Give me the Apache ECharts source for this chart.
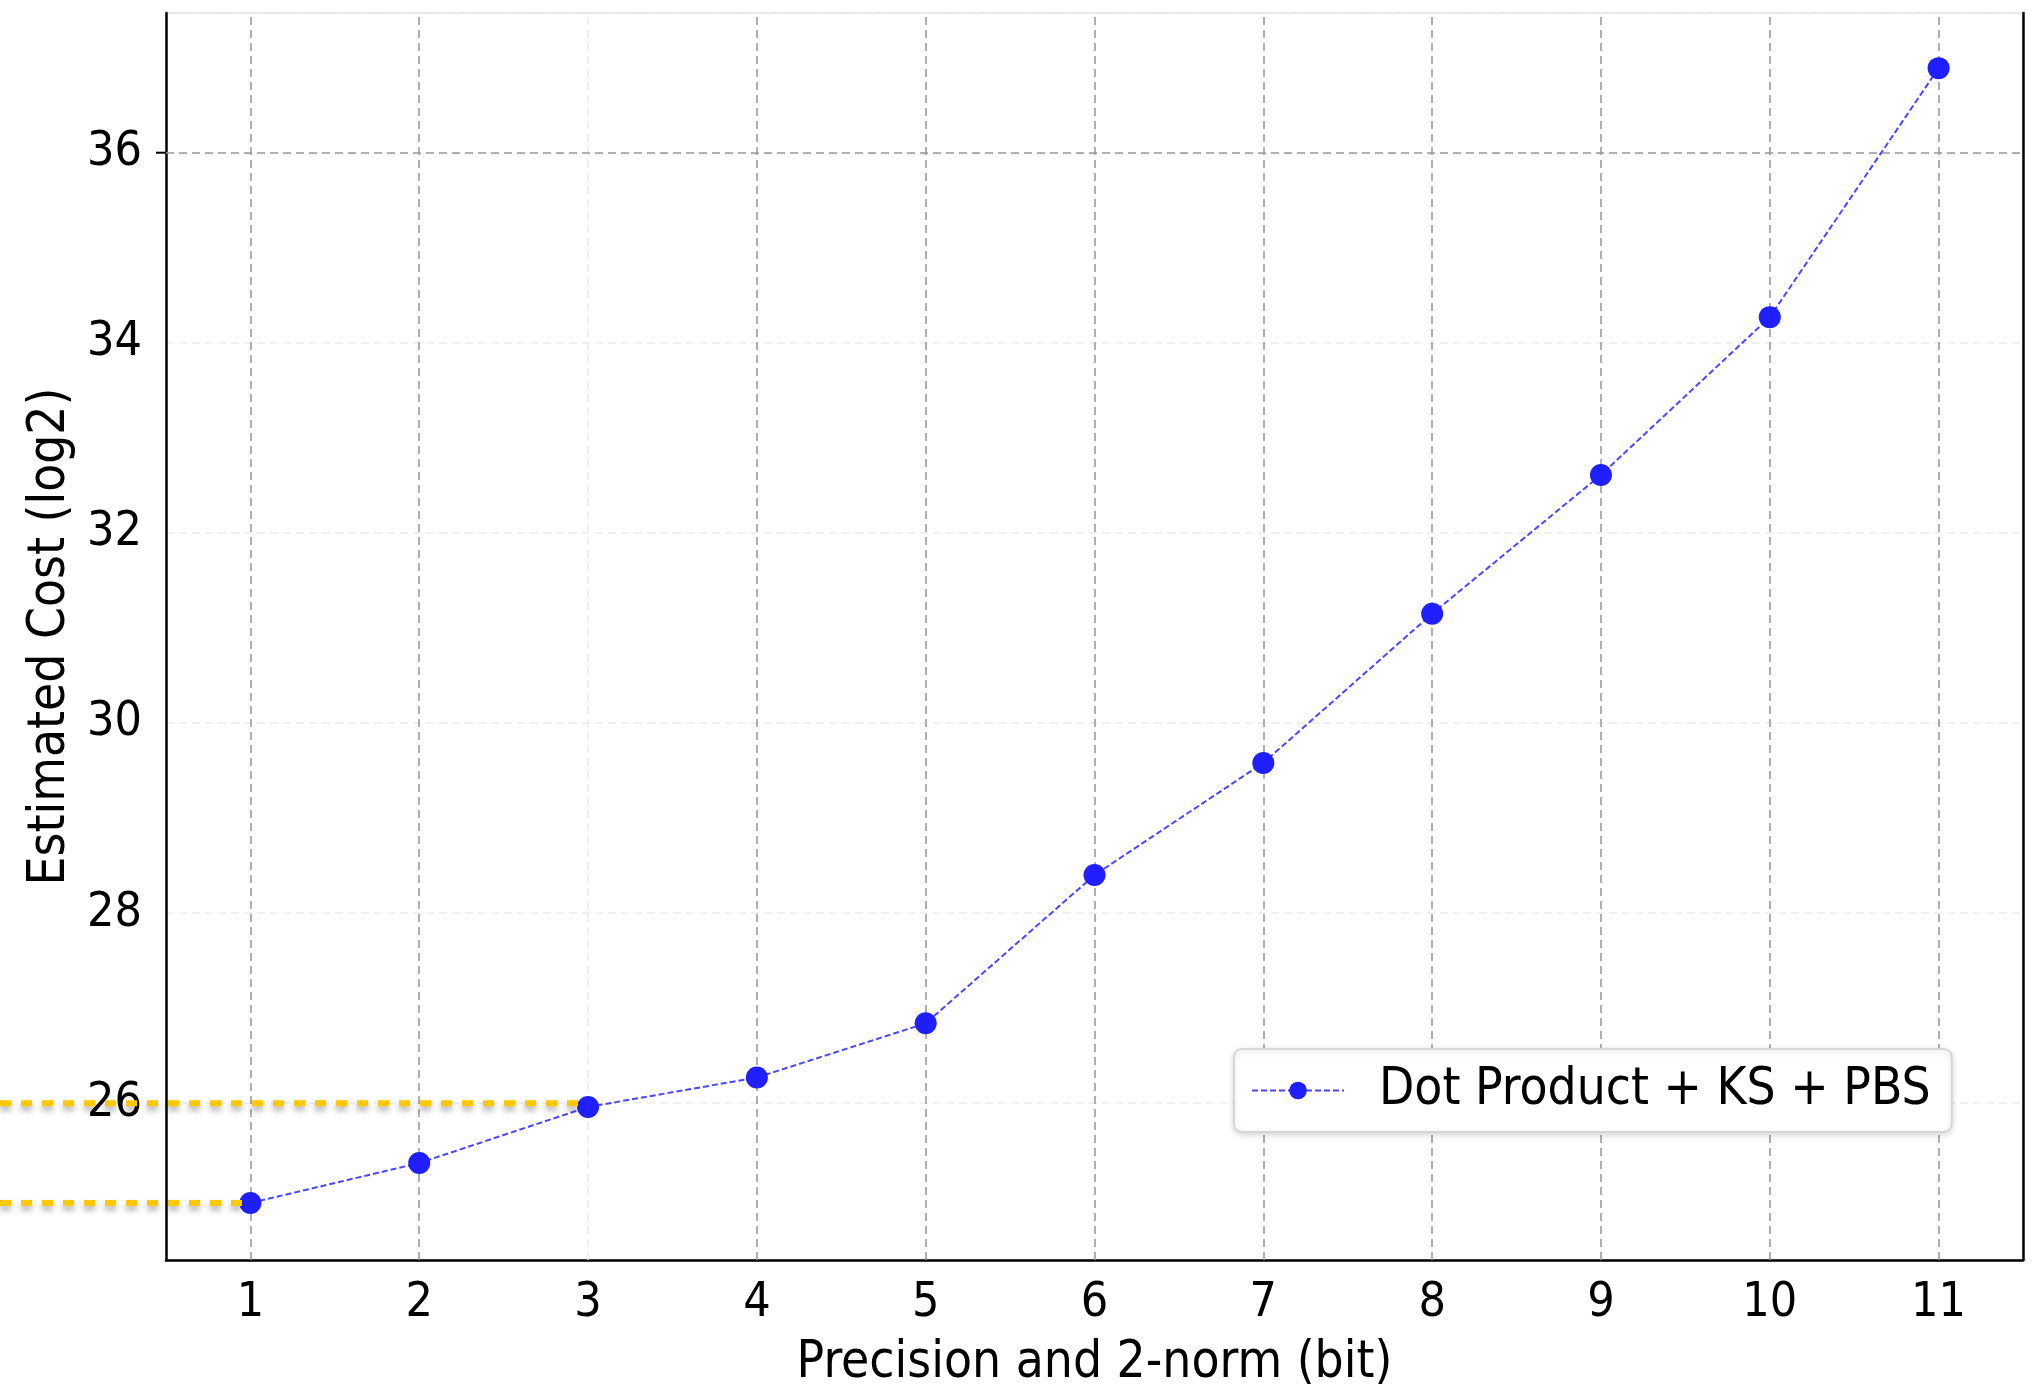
<!DOCTYPE html>
<html><head><meta charset="utf-8">
<script src="https://cdn.jsdelivr.net/npm/echarts@6/dist/echarts.min.js"></script>
<style>html,body{margin:0;padding:0;background:#fff}#c{width:2036px;height:1394px}</style>
</head><body><div id="c"></div>
<script>
const categories = ['1','2','3','4','5','6','7','8','9','10','11'];
const costValues = [24.95, 25.37, 25.96, 26.27, 26.84, 28.40, 29.58, 31.15, 32.61, 34.27, 36.89];
const seriesName = 'Dot Product + KS + PBS';
const xTitle = 'Precision and 2-norm (bit)';
const yTitle = 'Estimated Cost (log2)';
const yMin = 24.35, yMax = 37.47;
const highlightY = 36;
const faintCategory = '3';
const guideCats = ['3', '1'];
const guideValues = [26, costValues[0]];

const FONT = '"DejaVu Sans Condensed", "DejaVu Sans", sans-serif';
const GRID = {left: 166, right: 13, top: 13, bottom: 131};
const chart = echarts.init(document.getElementById('c'), null, {renderer: 'canvas'});

const dark = {color: '#9c9c9c', type: [8, 5], width: 1.6};
const faint = {color: '#ececec', type: [8, 5], width: 1.6};

chart.setOption({
  animation: false,
  backgroundColor: '#fff',
  textStyle: {fontFamily: FONT},
  grid: {left: GRID.left, right: GRID.right, top: GRID.top, bottom: GRID.bottom, show: true, borderColor: '#e6e6e6', borderWidth: 2, backgroundColor: 'transparent'},
  legend: {
    data: [seriesName], left: 1234, top: 1049,
    padding: [16, 21, 16, 17], itemWidth: 92, itemHeight: 22, itemGap: 0,
    textStyle: {fontSize: 51, fontFamily: FONT, color: '#000', padding: [0, 0, 0, 30]},
    backgroundColor: '#fff', borderColor: '#d6d6d6', borderWidth: 2, borderRadius: 8,
    shadowBlur: 6, shadowColor: 'rgba(0,0,0,0.15)', shadowOffsetY: 2
  },
  xAxis: {
    type: 'category', data: categories, boundaryGap: true,
    axisLine: {lineStyle: {color: '#000', width: 2.5}},
    axisTick: {alignWithLabel: true, length: 10, lineStyle: {color: '#000', width: 2}},
    axisLabel: {fontSize: 48, color: '#000', margin: 20, fontFamily: FONT},
    splitLine: {show: false},
    name: xTitle, nameLocation: 'middle', nameGap: 78,
    nameTextStyle: {fontSize: 51, color: '#000', fontFamily: FONT}
  },
  yAxis: [{
    type: 'value', min: yMin, max: yMax, splitNumber: 6,
    axisLine: {show: true, lineStyle: {color: '#000', width: 2.5}},
    axisTick: {show: false},
    axisLabel: {fontSize: 48, color: '#000', margin: 24, showMinLabel: false, showMaxLabel: false, fontFamily: FONT},
    splitLine: {show: true, lineStyle: faint},
    name: yTitle, nameLocation: 'middle', nameGap: 88,
    nameTextStyle: {fontSize: 51, color: '#000', fontFamily: FONT}
  }, {
    type: 'value', min: yMin, max: yMax, position: 'right',
    axisLine: {show: true, lineStyle: {color: '#000', width: 2.5}},
    axisTick: {show: false}, axisLabel: {show: false}, splitLine: {show: false}
  }],
  series: [{
    type: 'line', data: [], silent: true, z: 1,
    markLine: {
      silent: true, symbol: 'none', label: {show: false}, animation: false, z: 1,
      data: categories.map(c => ({xAxis: c, lineStyle: c === faintCategory ? faint : dark}))
        .concat([{yAxis: highlightY, lineStyle: dark}])
    }
  }, {
    name: seriesName, type: 'line', data: costValues, z: 3,
    symbol: 'circle', symbolSize: 22,
    itemStyle: {color: '#1f1fff'},
    lineStyle: {color: 'rgba(40,40,255,0.85)', width: 2, type: [6, 3]}
  }]
});

const graphics = guideCats.map((c, i) => {
  const p = chart.convertToPixel({seriesIndex: 1}, [categories.indexOf(c), guideValues[i]]);
  return {
    type: 'line', z: 100, silent: true,
    shape: {x1: 0, y1: p[1], x2: p[0], y2: p[1]},
    style: {stroke: '#FFC800', lineWidth: 6, lineDash: [11, 10], shadowBlur: 6, shadowColor: 'rgba(0,0,0,0.35)', shadowOffsetY: 4}
  };
});
const t = chart.convertToPixel({yAxisIndex: 0}, highlightY);
graphics.push({type: 'line', z: 50, silent: true, shape: {x1: GRID.left - 10, y1: t, x2: GRID.left, y2: t}, style: {stroke: '#000', lineWidth: 2}});
chart.setOption({graphic: graphics});
</script></body></html>
